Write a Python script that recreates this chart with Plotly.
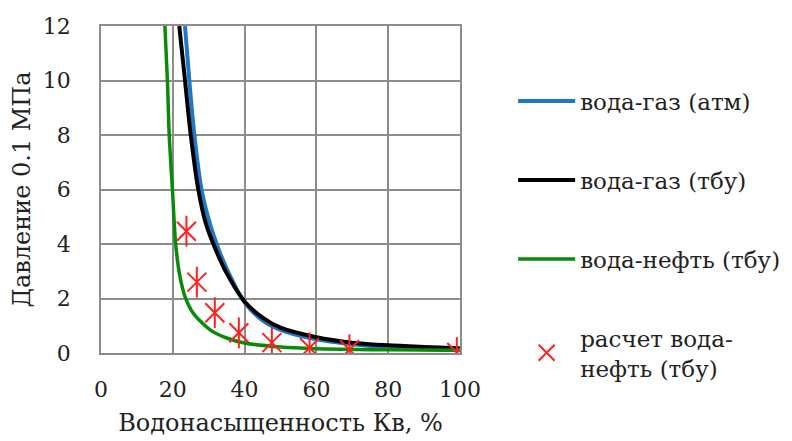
import plotly.graph_objects as go

# вода-газ (атм)
blue_x = [23.4, 24.6, 26.0, 28.0, 30.0, 32.2, 35.0, 40.0, 45.0, 50.0, 60.0, 70.0, 80.0, 90.0, 100.0]
blue_y = [12.0, 10.0, 8.0, 6.0, 4.9, 4.0, 3.1, 1.85, 1.2, 0.85, 0.5, 0.32, 0.2, 0.14, 0.1]

# вода-газ (тбу)
black_x = [21.8, 23.4, 25.0, 27.1, 29.0, 31.3, 35.0, 40.0, 45.0, 50.0, 60.0, 70.0, 80.0, 90.0, 100.0]
black_y = [12.0, 10.0, 8.0, 6.0, 4.85, 4.0, 2.93, 1.89, 1.3, 0.93, 0.58, 0.38, 0.28, 0.22, 0.17]

# вода-нефть (тбу)
green_x = [17.8, 18.5, 19.0, 19.9, 20.8, 22.0, 23.4, 25.7, 30.4, 35.0, 40.0, 50.0, 60.0, 80.0, 100.0]
green_y = [12.0, 10.0, 8.0, 6.0, 4.0, 2.8, 2.07, 1.46, 0.85, 0.55, 0.37, 0.22, 0.16, 0.12, 0.1]

# расчет вода-нефть (тбу)
calc_x = [23.8, 26.7, 31.7, 38.4, 47.6, 58.1, 69.2, 99.1]
calc_y = [4.47, 2.6, 1.48, 0.74, 0.38, 0.19, 0.12, 0.02]

names = ["вода-газ (атм)", "вода-газ (тбу)", "вода-нефть (тбу)", "расчет вода-<br>нефть (тбу)"]

FONT = "DejaVu Serif"
GRID = "#8c8c8c"
TXT = "#222222"

fig = go.Figure()
fig.add_trace(go.Scatter(x=blue_x, y=blue_y, mode="lines", name=names[0], legendgroup="a",
                         line=dict(color="#1f77c8", width=4, shape="spline", smoothing=0.8)))
fig.add_trace(go.Scatter(x=black_x, y=black_y, mode="lines", name=names[1], legendgroup="b",
                         line=dict(color="#000000", width=4, shape="spline", smoothing=0.8)))
fig.add_trace(go.Scatter(x=green_x, y=green_y, mode="lines", name=names[2], legendgroup="c",
                         line=dict(color="#0a8a0a", width=3.5, shape="spline", smoothing=0.8)))
fig.add_trace(go.Scatter(x=calc_x, y=calc_y, mode="markers", name=names[3], legendgroup="d",
                         marker=dict(symbol="x-thin-open", size=19, color="#ff2020",
                                     line=dict(color="#ff2020", width=2))))
fig.add_trace(go.Scatter(x=calc_x, y=calc_y, mode="markers", name=names[3], legendgroup="d",
                         showlegend=False,
                         marker=dict(symbol="line-ns-open", size=22, color="#ff2020",
                                     line=dict(color="#ff2020", width=2))))

fig.update_layout(
    width=792, height=441,
    margin=dict(l=93, r=340, t=18, b=96, autoexpand=False),
    paper_bgcolor="white", plot_bgcolor="white",
    font=dict(family=FONT, size=22, color=TXT),
    showlegend=True,
    legend=dict(x=1.148, y=0.836, xanchor="left", yanchor="top",
                font=dict(family=FONT, size=23, color=TXT),
                tracegroupgap=46, itemwidth=57, bgcolor="rgba(0,0,0,0)"),
    xaxis=dict(range=[0, 100], dtick=20, tick0=0, showgrid=True, gridcolor=GRID, gridwidth=1.5,
               showline=True, linecolor=GRID, linewidth=1.5, mirror=True, zeroline=False,
               automargin=False,
               ticks="", ticklabelstandoff=16, tickfont=dict(family=FONT, size=22, color=TXT),
               title=dict(text="Водонасыщенность Кв, %", font=dict(family=FONT, size=24, color=TXT),
                          standoff=13)),
    yaxis=dict(range=[0, 12], dtick=2, tick0=0, showgrid=True, gridcolor=GRID, gridwidth=1.5,
               showline=True, linecolor=GRID, linewidth=1.5, mirror=True, zeroline=False,
               automargin=False,
               ticks="", ticklabelstandoff=24, tickfont=dict(family=FONT, size=22, color=TXT),
               title=dict(text="Давление 0.1 МПа", font=dict(family=FONT, size=24, color=TXT),
                          standoff=9)),
)

fig.write_html("out.html")
